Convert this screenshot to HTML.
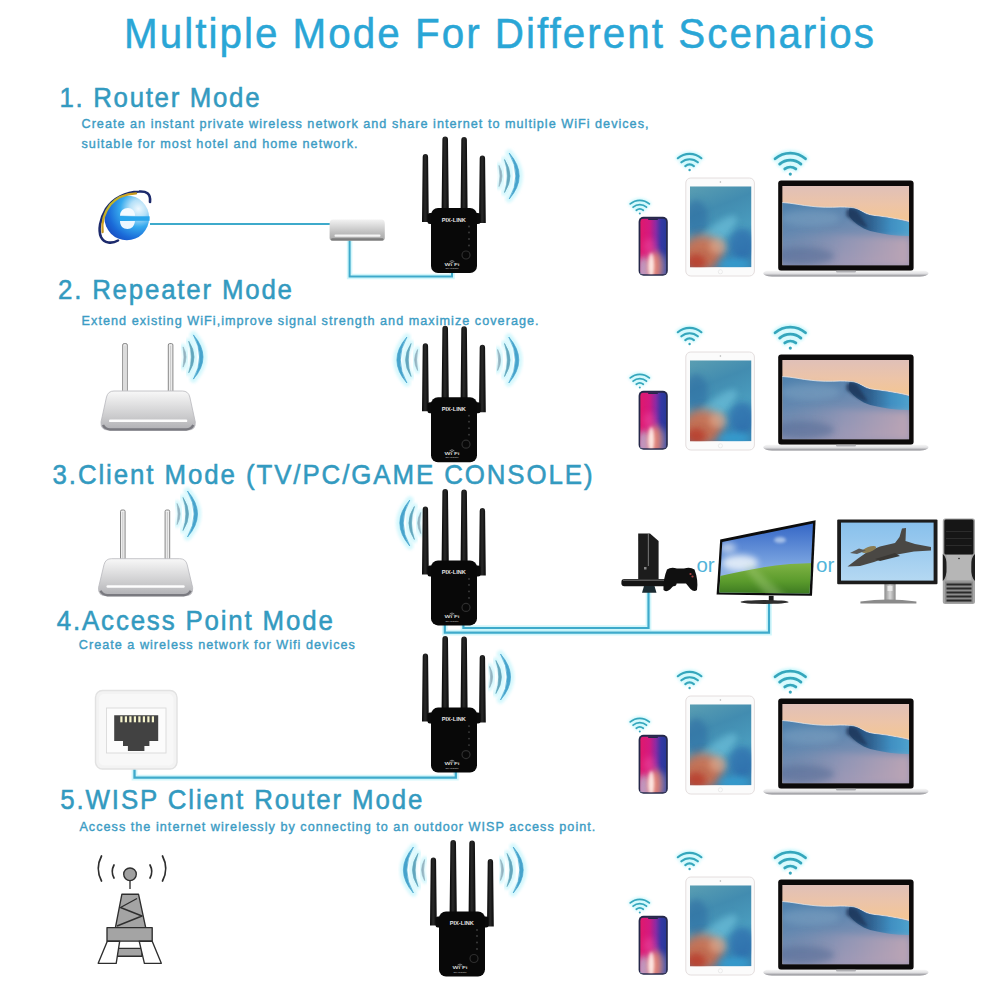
<!DOCTYPE html>
<html><head><meta charset="utf-8">
<style>
html,body{margin:0;padding:0;background:#fff;}
body{width:1000px;height:1000px;overflow:hidden;position:relative;font-family:"Liberation Sans",sans-serif;}
svg{position:absolute;left:0;top:0;}
text{-webkit-font-smoothing:antialiased;font-variant-ligatures:none;font-feature-settings:'liga' 0;}
</style></head><body>
<svg width="1000" height="1000" viewBox="0 0 1000 1000">
<defs>
<filter id="blur1" x="-50%" y="-50%" width="200%" height="200%"><feGaussianBlur stdDeviation="1.6"/></filter>
<filter id="blur05" x="-20%" y="-20%" width="140%" height="140%"><feGaussianBlur stdDeviation="0.5"/></filter>
<filter id="blur2" x="-50%" y="-50%" width="200%" height="200%"><feGaussianBlur stdDeviation="3"/></filter>
<filter id="blur4" x="-50%" y="-50%" width="200%" height="200%"><feGaussianBlur stdDeviation="5"/></filter>
<linearGradient id="phoneG" x1="0" y1="0" x2="1" y2="0">
 <stop offset="0" stop-color="#e0186c"/><stop offset="0.35" stop-color="#d41a80"/><stop offset="0.6" stop-color="#8a2aa4"/><stop offset="0.8" stop-color="#3438a4"/><stop offset="1" stop-color="#283898"/>
</linearGradient>
<linearGradient id="phoneV" x1="0" y1="0" x2="0" y2="1">
 <stop offset="0" stop-color="#fff" stop-opacity="0"/><stop offset="0.5" stop-color="#fff" stop-opacity="0"/><stop offset="1" stop-color="#c8c8e0" stop-opacity="0.8"/>
</linearGradient>
<radialGradient id="phoneGlow" cx="0.45" cy="1.0" r="0.6" gradientTransform="translate(0.45 1) scale(0.55 1) translate(-0.45 -1)">
 <stop offset="0" stop-color="#fff0e8" stop-opacity="1"/><stop offset="0.3" stop-color="#f4a888" stop-opacity="0.95"/><stop offset="0.65" stop-color="#e87870" stop-opacity="0.5"/><stop offset="1" stop-color="#e87870" stop-opacity="0"/>
</radialGradient>
<linearGradient id="tabG" x1="0" y1="0" x2="0.3" y2="1">
 <stop offset="0" stop-color="#5a9eb2"/><stop offset="0.35" stop-color="#428cb0"/><stop offset="0.7" stop-color="#4a9cbe"/><stop offset="1" stop-color="#3a84b2"/>
</linearGradient>
<linearGradient id="lapSky" x1="0" y1="0" x2="0" y2="0.45">
 <stop offset="0" stop-color="#e0c0b8"/><stop offset="0.5" stop-color="#ecc4a8"/><stop offset="1" stop-color="#f4c692"/>
</linearGradient>
<linearGradient id="lapSea" x1="0" y1="0" x2="0.5" y2="1">
 <stop offset="0" stop-color="#4e82ae"/><stop offset="0.4" stop-color="#6488b0"/><stop offset="1" stop-color="#9a96b4"/>
</linearGradient>
<linearGradient id="lapLow" x1="0" y1="0" x2="1" y2="0">
 <stop offset="0" stop-color="#7088aa" stop-opacity="0.0"/><stop offset="0.5" stop-color="#a49cb8" stop-opacity="0.5"/><stop offset="1" stop-color="#c4a8b4" stop-opacity="0.8"/>
</linearGradient>
<linearGradient id="crestG" x1="0" y1="0" x2="1" y2="0">
 <stop offset="0" stop-color="#244a74"/><stop offset="0.35" stop-color="#2a5c8c"/><stop offset="0.7" stop-color="#3a90c4"/><stop offset="1" stop-color="#48a4d0"/>
</linearGradient>
<linearGradient id="baseG" x1="0" y1="0" x2="0" y2="1">
 <stop offset="0" stop-color="#f6f6f6"/><stop offset="0.45" stop-color="#e2e2e4"/><stop offset="0.75" stop-color="#b4b4b8"/><stop offset="1" stop-color="#7e7e84"/>
</linearGradient>
<linearGradient id="routerG" x1="0" y1="0" x2="0" y2="1">
 <stop offset="0" stop-color="#f8f8f8"/><stop offset="0.7" stop-color="#c8c8ca"/><stop offset="1" stop-color="#b0b0b4"/>
</linearGradient>
<linearGradient id="switchG" x1="0" y1="0" x2="0" y2="1">
 <stop offset="0" stop-color="#f2f2f2"/><stop offset="0.65" stop-color="#bcbcbc"/><stop offset="1" stop-color="#a8a8a8"/>
</linearGradient>
<linearGradient id="tvSky" x1="0" y1="0" x2="0" y2="1">
 <stop offset="0" stop-color="#2f62c4"/><stop offset="0.55" stop-color="#7aa4e0"/><stop offset="1" stop-color="#c4d8ee"/>
</linearGradient>
<linearGradient id="tvGrass" x1="0" y1="0" x2="0" y2="1">
 <stop offset="0" stop-color="#80b444"/><stop offset="0.5" stop-color="#5a9a2c"/><stop offset="1" stop-color="#2e6a1c"/>
</linearGradient>
<linearGradient id="monSky" x1="0" y1="0" x2="0" y2="1">
 <stop offset="0" stop-color="#88c0ec"/><stop offset="1" stop-color="#b4d8f2"/>
</linearGradient>
<linearGradient id="silverG" x1="0" y1="0" x2="1" y2="0">
 <stop offset="0" stop-color="#8a8a8a"/><stop offset="0.5" stop-color="#d8d8d8"/><stop offset="1" stop-color="#8a8a8a"/>
</linearGradient>
<radialGradient id="ieG" cx="0.76" cy="0.3" r="0.9">
 <stop offset="0" stop-color="#eef8fe"/><stop offset="0.22" stop-color="#b4e0f8"/><stop offset="0.45" stop-color="#36aaee"/><stop offset="0.75" stop-color="#1a6ad8"/><stop offset="1" stop-color="#1a44b8"/>
</radialGradient>
<linearGradient id="ieRing" x1="0" y1="0" x2="1" y2="1">
 <stop offset="0" stop-color="#a0e040"/><stop offset="0.4" stop-color="#d0a020"/><stop offset="1" stop-color="#806010"/>
</linearGradient>
<linearGradient id="antG" x1="0" y1="0" x2="1" y2="0">
 <stop offset="0" stop-color="#050505"/><stop offset="0.45" stop-color="#2a2a2a"/><stop offset="1" stop-color="#080808"/>
</linearGradient>

<g id="rep">
<path d="M-8.30,-51.00 Q-8.30,-54.00 -5.60,-54.00 Q-2.90,-54.00 -2.90,-51.00 L-2.20,14.00 L-9.00,14.00 Z" fill="url(#antG)"/>
<path d="M11.40,-68.50 Q11.40,-71.50 14.20,-71.50 Q17.00,-71.50 17.00,-68.50 L17.80,3.00 L10.60,3.00 Z" fill="url(#antG)"/>
<path d="M30.30,-68.00 Q30.30,-71.00 33.10,-71.00 Q35.90,-71.00 35.90,-68.00 L36.60,3.00 L29.60,3.00 Z" fill="url(#antG)"/>
<path d="M48.70,-49.50 Q48.70,-52.50 51.40,-52.50 Q54.10,-52.50 54.10,-49.50 L54.80,15.00 L48.00,15.00 Z" fill="url(#antG)"/>
<rect x="-3.5" y="5" width="7" height="11" rx="2.5" fill="#0a0a0a"/>
<rect x="42.5" y="5" width="7" height="11" rx="2.5" fill="#0a0a0a"/>
<rect x="0" y="0" width="46" height="65" rx="7" fill="#080808"/>
<text x="22.8" y="13.8" font-family="Liberation Sans" font-weight="bold" font-size="5" fill="#e4e4e4" text-anchor="middle" textLength="24" lengthAdjust="spacingAndGlyphs">PIX-LINK</text>
<circle cx="38" cy="18.5" r="0.9" fill="#404040"/>
<circle cx="38" cy="24.5" r="0.9" fill="#404040"/>
<circle cx="38" cy="31" r="0.9" fill="#404040"/>
<circle cx="38" cy="37.5" r="0.9" fill="#404040"/>
<circle cx="35" cy="47" r="4" fill="none" stroke="#2e2e2e" stroke-width="1.2"/>
<text x="21" y="57.5" font-family="Liberation Sans" font-weight="bold" font-size="4.2" fill="#d0d0d0" text-anchor="middle" textLength="15" lengthAdjust="spacingAndGlyphs">Wi Fi</text>
<path d="M18.6,53.6 Q21,51.6 23.4,53.6 M19.6,54.8 Q21,53.6 22.4,54.8" fill="none" stroke="#d0d0d0" stroke-width="0.6"/>
<text x="21" y="61.3" font-family="Liberation Sans" font-weight="bold" font-size="2.4" fill="#a8a8a8" text-anchor="middle" textLength="13" lengthAdjust="spacingAndGlyphs">WiFi Repeater</text>
</g></defs>
<text transform="translate(124 48) scale(0.95 1)" x="0" y="0" font-family="Liberation Sans" font-size="42.5" font-weight="normal" fill="#2aa6d6" text-anchor="start" textLength="789.5" lengthAdjust="spacing" stroke="#2aa6d6" stroke-width="0.5">Multiple Mode For Different Scenarios</text>
<text transform="translate(59.5 106.5) scale(0.94 1)" x="0" y="0" font-family="Liberation Sans" font-size="27.5" font-weight="normal" fill="#339ac0" text-anchor="start" textLength="212.8" lengthAdjust="spacing" stroke="#339ac0" stroke-width="0.55">1. Router Mode</text>
<text transform="translate(81.5 127.5) scale(0.93 1)" x="0" y="0" font-family="Liberation Sans" font-size="13.6" font-weight="normal" fill="#3c9cc4" text-anchor="start" textLength="609.7" lengthAdjust="spacing" stroke="#3c9cc4" stroke-width="0.4">Create an instant private wireless network and share internet to multiple WiFi devices,</text>
<text transform="translate(81.5 147.5) scale(0.93 1)" x="0" y="0" font-family="Liberation Sans" font-size="13.6" font-weight="normal" fill="#3c9cc4" text-anchor="start" textLength="296.8" lengthAdjust="spacing" stroke="#3c9cc4" stroke-width="0.4">suitable for most hotel and home network.</text>
<text transform="translate(58 298.6) scale(0.94 1)" x="0" y="0" font-family="Liberation Sans" font-size="27.5" font-weight="normal" fill="#339ac0" text-anchor="start" textLength="248.9" lengthAdjust="spacing" stroke="#339ac0" stroke-width="0.55">2. Repeater Mode</text>
<text transform="translate(81.6 324.6) scale(0.93 1)" x="0" y="0" font-family="Liberation Sans" font-size="13.6" font-weight="normal" fill="#3c9cc4" text-anchor="start" textLength="491.4" lengthAdjust="spacing" stroke="#3c9cc4" stroke-width="0.4">Extend existing WiFi,improve signal strength and maximize coverage.</text>
<text transform="translate(52.5 484) scale(0.94 1)" x="0" y="0" font-family="Liberation Sans" font-size="27.5" font-weight="normal" fill="#339ac0" text-anchor="start" textLength="574.5" lengthAdjust="spacing" stroke="#339ac0" stroke-width="0.55">3.Client Mode (TV/PC/GAME CONSOLE)</text>
<text transform="translate(56.8 630) scale(0.94 1)" x="0" y="0" font-family="Liberation Sans" font-size="27.5" font-weight="normal" fill="#339ac0" text-anchor="start" textLength="293.6" lengthAdjust="spacing" stroke="#339ac0" stroke-width="0.55">4.Access Point Mode</text>
<text transform="translate(78.8 648.8) scale(0.93 1)" x="0" y="0" font-family="Liberation Sans" font-size="13.6" font-weight="normal" fill="#3c9cc4" text-anchor="start" textLength="296.8" lengthAdjust="spacing" stroke="#3c9cc4" stroke-width="0.4">Create a wireless network for Wifi devices</text>
<text transform="translate(60.3 809) scale(0.94 1)" x="0" y="0" font-family="Liberation Sans" font-size="27.5" font-weight="normal" fill="#339ac0" text-anchor="start" textLength="385.1" lengthAdjust="spacing" stroke="#339ac0" stroke-width="0.55">5.WISP Client Router Mode</text>
<text transform="translate(79.4 830.5) scale(0.93 1)" x="0" y="0" font-family="Liberation Sans" font-size="13.6" font-weight="normal" fill="#3c9cc4" text-anchor="start" textLength="554.8" lengthAdjust="spacing" stroke="#3c9cc4" stroke-width="0.4">Access the internet wirelessly by connecting to an outdoor WISP access point.</text>
<polyline points="150,224 331,224" fill="none" stroke="#aef0f8" stroke-width="5.5" opacity="0.55" filter="url(#blur05)"/>
<polyline points="349.6,240 349.6,276.6 452,276.6 452,270" fill="none" stroke="#aef0f8" stroke-width="5.5" opacity="0.55" filter="url(#blur05)"/>
<polyline points="444.8,625 444.8,632.6 769,632.6 769,602" fill="none" stroke="#aef0f8" stroke-width="5.7" opacity="0.55" filter="url(#blur05)"/>
<polyline points="463.4,625 463.4,628 648.5,628 648.5,592" fill="none" stroke="#aef0f8" stroke-width="5.7" opacity="0.55" filter="url(#blur05)"/>
<polyline points="134.5,765 134.5,777.6 455.8,777.6 455.8,772" fill="none" stroke="#aef0f8" stroke-width="5.8" opacity="0.55" filter="url(#blur05)"/>
<polyline points="150,224 331,224" fill="none" stroke="#3eaacb" stroke-width="2.0"/>
<polyline points="349.6,240 349.6,276.6 452,276.6 452,270" fill="none" stroke="#3eaacb" stroke-width="2.0"/>
<polyline points="444.8,625 444.8,632.6 769,632.6 769,602" fill="none" stroke="#3eaacb" stroke-width="2.2"/>
<polyline points="463.4,625 463.4,628 648.5,628 648.5,592" fill="none" stroke="#3eaacb" stroke-width="2.2"/>
<polyline points="134.5,765 134.5,777.6 455.8,777.6 455.8,772" fill="none" stroke="#3eaacb" stroke-width="2.3"/>
<g>
 <circle cx="126.8" cy="217.8" r="22.4" fill="url(#ieG)"/>
 <path d="M120,215.8 C120,211 123.5,208 128,208 C132,208 135,211 135,215.8 Z" fill="#f4faff"/>
 <rect x="120" y="216.3" width="29.6" height="4.5" fill="#2aa6ec"/>
 <path d="M120,221 L135,221 C134.5,226 131.5,229 127.5,229 C123,229 120,226 120,221 Z" fill="#eef7ff"/>
 <path d="M118,240.5 C112,244 104,243.5 101,237 C98,230 100,219 106,209 C113,198 126,192 139,191.5 C146,191 151,193 150,202" fill="none" stroke="#1c2a6c" stroke-width="2.6" stroke-linecap="round"/>
 <path d="M102.6,232 C101.5,222 104.5,212 110.5,204.5 C116.5,197.5 126,193.8 136,193.3" fill="none" stroke="url(#ieRing)" stroke-width="2.3" stroke-linecap="round"/>
</g>
<path d="M333,219.6 L381.5,219.6 Q384.8,219.6 384.8,224 L384.8,238 Q384.8,240.8 381,240.8 L333,240.8 Q329.6,240.8 329.6,238 L329.6,224 Q329.6,219.6 333,219.6 Z" fill="url(#switchG)"/>
<rect x="334.5" y="234.6" width="46" height="2.2" rx="1" fill="#f4f4f4"/>
<rect x="331" y="238.2" width="52.5" height="2.4" rx="1.2" fill="#7c7c7c"/>
<rect x="122.7" y="343.6" width="4.6" height="48.4" rx="1.4" fill="#eeeeee" stroke="#7a7a7a" stroke-width="0.9"/>
<line x1="125.0" y1="345.6" x2="125.0" y2="391.0" stroke="#c0c0c0" stroke-width="0.8"/>
<rect x="168.3" y="343.6" width="4.6" height="48.4" rx="1.4" fill="#eeeeee" stroke="#7a7a7a" stroke-width="0.9"/>
<line x1="170.6" y1="345.6" x2="170.6" y2="391.0" stroke="#c0c0c0" stroke-width="0.8"/>
<path d="M114.0,391.0 L182.3,391.0 Q188.3,391.0 189.8,397.0 L195.3,422.0 Q195.8,430.0 188.3,430.0 L108.0,430.0 Q100.5,430.0 101.0,422.0 L106.5,397.0 Q108.0,391.0 114.0,391.0 Z" fill="url(#routerG)" stroke="#b8b8bc" stroke-width="0.8"/>
<rect x="109.0" y="419.5" width="78.3" height="2.6" rx="1.2" fill="#fdfdfd"/>
<path d="M103.0,425.0 Q105.0,429.0 110.0,429.5 L186.3,429.5 Q191.3,429.0 193.3,425.0" fill="none" stroke="#7a7a80" stroke-width="2.4"/>
<rect x="120.5" y="510.0" width="4.6" height="49.7" rx="1.4" fill="#eeeeee" stroke="#7a7a7a" stroke-width="0.9"/>
<line x1="122.8" y1="512.0" x2="122.8" y2="558.7" stroke="#c0c0c0" stroke-width="0.8"/>
<rect x="165.1" y="510.0" width="4.6" height="49.7" rx="1.4" fill="#eeeeee" stroke="#7a7a7a" stroke-width="0.9"/>
<line x1="167.4" y1="512.0" x2="167.4" y2="558.7" stroke="#c0c0c0" stroke-width="0.8"/>
<path d="M111.5,558.7 L179.7,558.7 Q185.7,558.7 187.2,564.7 L192.7,587.7 Q193.2,595.7 185.7,595.7 L105.5,595.7 Q98.0,595.7 98.5,587.7 L104.0,564.7 Q105.5,558.7 111.5,558.7 Z" fill="url(#routerG)" stroke="#b8b8bc" stroke-width="0.8"/>
<rect x="106.5" y="585.2" width="78.2" height="2.6" rx="1.2" fill="#fdfdfd"/>
<path d="M100.5,590.7 Q102.5,594.7 107.5,595.2 L183.7,595.2 Q188.7,594.7 190.7,590.7" fill="none" stroke="#7a7a80" stroke-width="2.4"/>
<g>
 <rect x="95.5" y="690.5" width="81.5" height="78.5" rx="7" fill="#f3f3f3" stroke="#e2e2e2" stroke-width="1.4"/>
 <rect x="99" y="694" width="74.5" height="71.5" rx="5" fill="#f8f8f8"/>
 <rect x="106.5" y="708" width="59.5" height="45" fill="#fcfcfc" stroke="#dadada" stroke-width="0.9"/>
 <path d="M114.2,715.2 L158.2,715.2 L158.2,741 L149.4,741 L149.4,746 L144.4,746 L144.4,751 L127.9,751 L127.9,746 L123,746 L123,741 L114.2,741 Z" fill="#424242"/>
</g>
<rect x="120.3" y="716.3" width="2.2" height="6" fill="#f6f4cc"/>
<rect x="124.8" y="716.3" width="2.2" height="6" fill="#f6f4cc"/>
<rect x="129.3" y="716.3" width="2.2" height="6" fill="#f6f4cc"/>
<rect x="133.8" y="716.3" width="2.2" height="6" fill="#f6f4cc"/>
<rect x="138.3" y="716.3" width="2.2" height="6" fill="#f6f4cc"/>
<rect x="142.8" y="716.3" width="2.2" height="6" fill="#f6f4cc"/>
<rect x="147.3" y="716.3" width="2.2" height="6" fill="#f6f4cc"/>
<rect x="151.8" y="716.3" width="2.2" height="6" fill="#f6f4cc"/>
<g stroke="#2e2e2e" stroke-width="1.35" stroke-linejoin="round">
 <circle cx="130" cy="874.3" r="6.3" fill="#a0a0a0"/>
 <line x1="130" y1="880.6" x2="130" y2="889" />
 <path d="M121.9,894.2 L138.5,894.2 L145.7,927.6 L115.4,927.6 Z" fill="#a4a4a4"/>
 <path d="M137,898.5 L120.5,907.5 L142,916 L117,926" fill="none" />
 <rect x="107" y="927.6" width="45.2" height="13.6" fill="#a4a4a4"/>
 <rect x="117" y="948.4" width="25" height="7.8" fill="#a4a4a4"/>
 <path d="M107.3,941.2 L119.7,941.2 L116.2,963.3 L98.2,963.3 Z" fill="#fff"/>
 <path d="M139.2,941.2 L152.2,941.2 L161.3,963.3 L144.4,963.3 Z" fill="#fff"/>
 <g fill="none" stroke-linecap="round" stroke-width="1.7">
  <path d="M101.5,856 Q95,868.5 101.5,881"/>
  <path d="M114,865 Q110.5,871.5 114,878"/>
  <path d="M150,865 Q153.5,871.5 150,878"/>
  <path d="M162.5,856 Q169,868.5 162.5,881"/>
 </g>
</g>
<path d="M499.0,165.5 Q505.0,176.0 499.0,186.5" fill="none" stroke="#a8f0fa" stroke-width="6.1" stroke-linecap="round" opacity="0.5" filter="url(#blur1)"/>
<path d="M499.0,165.5 Q505.0,176.0 499.0,186.5 Q501.0,176.0 499.0,165.5 Z" fill="#8eaebc" stroke="#8eaebc" stroke-width="0.7" stroke-linejoin="round" opacity="0.92" filter="url(#blur05)"/>
<path d="M504.5,159.5 Q515.5,176.0 504.5,192.5" fill="none" stroke="#a8f0fa" stroke-width="6.6" stroke-linecap="round" opacity="0.5" filter="url(#blur1)"/>
<path d="M504.5,159.5 Q515.5,176.0 504.5,192.5 Q510.2,176.0 504.5,159.5 Z" fill="#5aa0b8" stroke="#5aa0b8" stroke-width="0.7" stroke-linejoin="round" opacity="0.92" filter="url(#blur05)"/>
<path d="M509.2,153.0 Q529.2,176.0 509.2,199.0" fill="none" stroke="#a8f0fa" stroke-width="7.2" stroke-linecap="round" opacity="0.5" filter="url(#blur1)"/>
<path d="M509.2,153.0 Q529.2,176.0 509.2,199.0 Q522.5,176.0 509.2,153.0 Z" fill="#3a9cc8" stroke="#3a9cc8" stroke-width="0.7" stroke-linejoin="round" opacity="0.92" filter="url(#blur05)"/>
<path d="M417.6,349.5 Q411.6,360.0 417.6,370.5" fill="none" stroke="#a8f0fa" stroke-width="6.1" stroke-linecap="round" opacity="0.5" filter="url(#blur1)"/>
<path d="M417.6,349.5 Q411.6,360.0 417.6,370.5 Q415.6,360.0 417.6,349.5 Z" fill="#8eaebc" stroke="#8eaebc" stroke-width="0.7" stroke-linejoin="round" opacity="0.92" filter="url(#blur05)"/>
<path d="M411.1,343.5 Q400.1,360.0 411.1,376.5" fill="none" stroke="#a8f0fa" stroke-width="6.6" stroke-linecap="round" opacity="0.5" filter="url(#blur1)"/>
<path d="M411.1,343.5 Q400.1,360.0 411.1,376.5 Q405.4,360.0 411.1,343.5 Z" fill="#5aa0b8" stroke="#5aa0b8" stroke-width="0.7" stroke-linejoin="round" opacity="0.92" filter="url(#blur05)"/>
<path d="M406.9,337.0 Q386.9,360.0 406.9,383.0" fill="none" stroke="#a8f0fa" stroke-width="7.2" stroke-linecap="round" opacity="0.5" filter="url(#blur1)"/>
<path d="M406.9,337.0 Q386.9,360.0 406.9,383.0 Q393.6,360.0 406.9,337.0 Z" fill="#3a9cc8" stroke="#3a9cc8" stroke-width="0.7" stroke-linejoin="round" opacity="0.92" filter="url(#blur05)"/>
<path d="M497.6,349.5 Q503.6,360.0 497.6,370.5" fill="none" stroke="#a8f0fa" stroke-width="6.1" stroke-linecap="round" opacity="0.5" filter="url(#blur1)"/>
<path d="M497.6,349.5 Q503.6,360.0 497.6,370.5 Q499.6,360.0 497.6,349.5 Z" fill="#8eaebc" stroke="#8eaebc" stroke-width="0.7" stroke-linejoin="round" opacity="0.92" filter="url(#blur05)"/>
<path d="M504.5,343.5 Q515.5,360.0 504.5,376.5" fill="none" stroke="#a8f0fa" stroke-width="6.6" stroke-linecap="round" opacity="0.5" filter="url(#blur1)"/>
<path d="M504.5,343.5 Q515.5,360.0 504.5,376.5 Q510.2,360.0 504.5,343.5 Z" fill="#5aa0b8" stroke="#5aa0b8" stroke-width="0.7" stroke-linejoin="round" opacity="0.92" filter="url(#blur05)"/>
<path d="M508.8,337.0 Q528.8,360.0 508.8,383.0" fill="none" stroke="#a8f0fa" stroke-width="7.2" stroke-linecap="round" opacity="0.5" filter="url(#blur1)"/>
<path d="M508.8,337.0 Q528.8,360.0 508.8,383.0 Q522.0,360.0 508.8,337.0 Z" fill="#3a9cc8" stroke="#3a9cc8" stroke-width="0.7" stroke-linejoin="round" opacity="0.92" filter="url(#blur05)"/>
<path d="M183.1,346.9 Q188.9,357.0 183.1,367.1" fill="none" stroke="#a8f0fa" stroke-width="6.1" stroke-linecap="round" opacity="0.5" filter="url(#blur1)"/>
<path d="M183.1,346.9 Q188.9,357.0 183.1,367.1 Q184.9,357.0 183.1,346.9 Z" fill="#8eaebc" stroke="#8eaebc" stroke-width="0.7" stroke-linejoin="round" opacity="0.92" filter="url(#blur05)"/>
<path d="M188.7,341.2 Q199.3,357.0 188.7,372.8" fill="none" stroke="#a8f0fa" stroke-width="6.6" stroke-linecap="round" opacity="0.5" filter="url(#blur1)"/>
<path d="M188.7,341.2 Q199.3,357.0 188.7,372.8 Q194.0,357.0 188.7,341.2 Z" fill="#5aa0b8" stroke="#5aa0b8" stroke-width="0.7" stroke-linejoin="round" opacity="0.92" filter="url(#blur05)"/>
<path d="M193.4,334.9 Q212.6,357.0 193.4,379.1" fill="none" stroke="#a8f0fa" stroke-width="7.2" stroke-linecap="round" opacity="0.5" filter="url(#blur1)"/>
<path d="M193.4,334.9 Q212.6,357.0 193.4,379.1 Q205.8,357.0 193.4,334.9 Z" fill="#3a9cc8" stroke="#3a9cc8" stroke-width="0.7" stroke-linejoin="round" opacity="0.92" filter="url(#blur05)"/>
<path d="M420.7,512.5 Q414.7,523.0 420.7,533.5" fill="none" stroke="#a8f0fa" stroke-width="6.1" stroke-linecap="round" opacity="0.5" filter="url(#blur1)"/>
<path d="M420.7,512.5 Q414.7,523.0 420.7,533.5 Q418.7,523.0 420.7,512.5 Z" fill="#8eaebc" stroke="#8eaebc" stroke-width="0.7" stroke-linejoin="round" opacity="0.92" filter="url(#blur05)"/>
<path d="M414.4,506.5 Q403.4,523.0 414.4,539.5" fill="none" stroke="#a8f0fa" stroke-width="6.6" stroke-linecap="round" opacity="0.5" filter="url(#blur1)"/>
<path d="M414.4,506.5 Q403.4,523.0 414.4,539.5 Q408.6,523.0 414.4,506.5 Z" fill="#5aa0b8" stroke="#5aa0b8" stroke-width="0.7" stroke-linejoin="round" opacity="0.92" filter="url(#blur05)"/>
<path d="M409.8,500.0 Q389.8,523.0 409.8,546.0" fill="none" stroke="#a8f0fa" stroke-width="7.2" stroke-linecap="round" opacity="0.5" filter="url(#blur1)"/>
<path d="M409.8,500.0 Q389.8,523.0 409.8,546.0 Q396.6,523.0 409.8,500.0 Z" fill="#3a9cc8" stroke="#3a9cc8" stroke-width="0.7" stroke-linejoin="round" opacity="0.92" filter="url(#blur05)"/>
<path d="M177.1,503.5 Q183.1,514.0 177.1,524.5" fill="none" stroke="#a8f0fa" stroke-width="6.1" stroke-linecap="round" opacity="0.5" filter="url(#blur1)"/>
<path d="M177.1,503.5 Q183.1,514.0 177.1,524.5 Q179.1,514.0 177.1,503.5 Z" fill="#8eaebc" stroke="#8eaebc" stroke-width="0.7" stroke-linejoin="round" opacity="0.92" filter="url(#blur05)"/>
<path d="M183.0,497.5 Q194.0,514.0 183.0,530.5" fill="none" stroke="#a8f0fa" stroke-width="6.6" stroke-linecap="round" opacity="0.5" filter="url(#blur1)"/>
<path d="M183.0,497.5 Q194.0,514.0 183.0,530.5 Q188.8,514.0 183.0,497.5 Z" fill="#5aa0b8" stroke="#5aa0b8" stroke-width="0.7" stroke-linejoin="round" opacity="0.92" filter="url(#blur05)"/>
<path d="M187.5,491.0 Q207.5,514.0 187.5,537.0" fill="none" stroke="#a8f0fa" stroke-width="7.2" stroke-linecap="round" opacity="0.5" filter="url(#blur1)"/>
<path d="M187.5,491.0 Q207.5,514.0 187.5,537.0 Q200.8,514.0 187.5,491.0 Z" fill="#3a9cc8" stroke="#3a9cc8" stroke-width="0.7" stroke-linejoin="round" opacity="0.92" filter="url(#blur05)"/>
<path d="M489.6,666.5 Q495.6,677.0 489.6,687.5" fill="none" stroke="#a8f0fa" stroke-width="6.1" stroke-linecap="round" opacity="0.5" filter="url(#blur1)"/>
<path d="M489.6,666.5 Q495.6,677.0 489.6,687.5 Q491.6,677.0 489.6,666.5 Z" fill="#8eaebc" stroke="#8eaebc" stroke-width="0.7" stroke-linejoin="round" opacity="0.92" filter="url(#blur05)"/>
<path d="M495.9,660.5 Q506.9,677.0 495.9,693.5" fill="none" stroke="#a8f0fa" stroke-width="6.6" stroke-linecap="round" opacity="0.5" filter="url(#blur1)"/>
<path d="M495.9,660.5 Q506.9,677.0 495.9,693.5 Q501.6,677.0 495.9,660.5 Z" fill="#5aa0b8" stroke="#5aa0b8" stroke-width="0.7" stroke-linejoin="round" opacity="0.92" filter="url(#blur05)"/>
<path d="M500.5,654.0 Q520.5,677.0 500.5,700.0" fill="none" stroke="#a8f0fa" stroke-width="7.2" stroke-linecap="round" opacity="0.5" filter="url(#blur1)"/>
<path d="M500.5,654.0 Q520.5,677.0 500.5,700.0 Q513.8,677.0 500.5,654.0 Z" fill="#3a9cc8" stroke="#3a9cc8" stroke-width="0.7" stroke-linejoin="round" opacity="0.92" filter="url(#blur05)"/>
<path d="M424.6,859.5 Q418.6,870.0 424.6,880.5" fill="none" stroke="#a8f0fa" stroke-width="6.1" stroke-linecap="round" opacity="0.5" filter="url(#blur1)"/>
<path d="M424.6,859.5 Q418.6,870.0 424.6,880.5 Q422.6,870.0 424.6,859.5 Z" fill="#8eaebc" stroke="#8eaebc" stroke-width="0.7" stroke-linejoin="round" opacity="0.92" filter="url(#blur05)"/>
<path d="M418.0,853.5 Q407.0,870.0 418.0,886.5" fill="none" stroke="#a8f0fa" stroke-width="6.6" stroke-linecap="round" opacity="0.5" filter="url(#blur1)"/>
<path d="M418.0,853.5 Q407.0,870.0 418.0,886.5 Q412.2,870.0 418.0,853.5 Z" fill="#5aa0b8" stroke="#5aa0b8" stroke-width="0.7" stroke-linejoin="round" opacity="0.92" filter="url(#blur05)"/>
<path d="M413.4,847.0 Q393.4,870.0 413.4,893.0" fill="none" stroke="#a8f0fa" stroke-width="7.2" stroke-linecap="round" opacity="0.5" filter="url(#blur1)"/>
<path d="M413.4,847.0 Q393.4,870.0 413.4,893.0 Q400.1,870.0 413.4,847.0 Z" fill="#3a9cc8" stroke="#3a9cc8" stroke-width="0.7" stroke-linejoin="round" opacity="0.92" filter="url(#blur05)"/>
<path d="M500.5,859.5 Q506.5,870.0 500.5,880.5" fill="none" stroke="#a8f0fa" stroke-width="6.1" stroke-linecap="round" opacity="0.5" filter="url(#blur1)"/>
<path d="M500.5,859.5 Q506.5,870.0 500.5,880.5 Q502.5,870.0 500.5,859.5 Z" fill="#8eaebc" stroke="#8eaebc" stroke-width="0.7" stroke-linejoin="round" opacity="0.92" filter="url(#blur05)"/>
<path d="M507.1,853.5 Q518.1,870.0 507.1,886.5" fill="none" stroke="#a8f0fa" stroke-width="6.6" stroke-linecap="round" opacity="0.5" filter="url(#blur1)"/>
<path d="M507.1,853.5 Q518.1,870.0 507.1,886.5 Q512.9,870.0 507.1,853.5 Z" fill="#5aa0b8" stroke="#5aa0b8" stroke-width="0.7" stroke-linejoin="round" opacity="0.92" filter="url(#blur05)"/>
<path d="M513.2,847.0 Q533.2,870.0 513.2,893.0" fill="none" stroke="#a8f0fa" stroke-width="7.2" stroke-linecap="round" opacity="0.5" filter="url(#blur1)"/>
<path d="M513.2,847.0 Q533.2,870.0 513.2,893.0 Q526.5,870.0 513.2,847.0 Z" fill="#3a9cc8" stroke="#3a9cc8" stroke-width="0.7" stroke-linejoin="round" opacity="0.92" filter="url(#blur05)"/>
<use href="#rep" x="431" y="208"/>
<use href="#rep" x="431" y="397.2"/>
<use href="#rep" x="431" y="560.4"/>
<use href="#rep" x="431" y="707.6"/>
<use href="#rep" x="439" y="911.5"/>
<path d="M630.23,203.88 A14.59,14.59 0 0 1 649.37,203.88 M633.11,207.20 A10.19,10.19 0 0 1 646.49,207.20 M636.32,210.27 A5.79,5.79 0 0 1 643.28,210.27" fill="none" stroke="#9ef2fa" stroke-width="3.46" stroke-linecap="round" opacity="0.6" filter="url(#blur1)"/>
<path d="M630.23,203.88 A14.59,14.59 0 0 1 649.37,203.88 M633.11,207.20 A10.19,10.19 0 0 1 646.49,207.20 M636.32,210.27 A5.79,5.79 0 0 1 643.28,210.27" fill="none" stroke="#35a6bc" stroke-width="1.76" stroke-linecap="round"/>
<circle cx="639.80" cy="213.51" r="1.01" fill="#35a6bc"/>
<rect x="638.6" y="216.8" width="29.2" height="59" rx="5" fill="#25284a"/>
<svg x="640.2" y="218.4" width="26" height="55.8" overflow="hidden"><rect width="26" height="55.8" rx="3.8" fill="url(#phoneG)"/><ellipse cx="4" cy="52" rx="8" ry="14" fill="#b8b8d4" opacity="0.8" filter="url(#blur2)"/><ellipse cx="23" cy="50" rx="6" ry="14" fill="#6a78b8" opacity="0.6" filter="url(#blur2)"/><ellipse cx="15" cy="48" rx="7" ry="16" fill="#f09070" opacity="0.85" filter="url(#blur2)"/><ellipse cx="11" cy="47" rx="3" ry="13" fill="#fff2ec" opacity="0.9" filter="url(#blur1)"/><ellipse cx="9" cy="28" rx="6" ry="8" fill="#f050a0" opacity="0.5" filter="url(#blur2)"/></svg>
<rect x="648" y="218.4" width="10" height="1.6" rx="0.8" fill="#25284a"/>
<path d="M677.82,158.21 A17.96,17.96 0 0 1 701.38,158.21 M681.37,162.30 A12.54,12.54 0 0 1 697.83,162.30 M685.31,166.07 A7.12,7.12 0 0 1 693.89,166.07" fill="none" stroke="#9ef2fa" stroke-width="4.26" stroke-linecap="round" opacity="0.6" filter="url(#blur1)"/>
<path d="M677.82,158.21 A17.96,17.96 0 0 1 701.38,158.21 M681.37,162.30 A12.54,12.54 0 0 1 697.83,162.30 M685.31,166.07 A7.12,7.12 0 0 1 693.89,166.07" fill="none" stroke="#35a6bc" stroke-width="2.17" stroke-linecap="round"/>
<circle cx="689.60" cy="170.06" r="1.24" fill="#35a6bc"/>
<rect x="685.8" y="178.0" width="68.6" height="98" rx="5" fill="#fbfbfb" stroke="#e4dede" stroke-width="1"/>
<svg x="690" y="186.3" width="61.5" height="81" overflow="hidden"><rect width="61.5" height="81" fill="url(#tabG)"/><ellipse cx="6" cy="32" rx="12" ry="18" fill="#2c68a0" opacity="0.5" filter="url(#blur2)"/><ellipse cx="28" cy="46" rx="24" ry="8" transform="rotate(-40 28 46)" fill="#74c8e0" opacity="0.55" filter="url(#blur2)"/><ellipse cx="12" cy="67" rx="20" ry="18" fill="#d86a44" opacity="0.85" filter="url(#blur4)"/><ellipse cx="6" cy="76" rx="10" ry="8" fill="#b83a2a" opacity="0.8" filter="url(#blur2)"/><ellipse cx="28" cy="60" rx="9" ry="8" fill="#e8b090" opacity="0.6" filter="url(#blur2)"/><ellipse cx="52" cy="58" rx="12" ry="16" fill="#2a68ac" opacity="0.6" filter="url(#blur2)"/><ellipse cx="44" cy="78" rx="16" ry="6" fill="#36a4d8" opacity="0.7" filter="url(#blur2)"/></svg>
<circle cx="720.4" cy="182.0" r="0.8" fill="#b0b0b0"/>
<circle cx="720.4" cy="271.8" r="2.1" fill="none" stroke="#e0e0e0" stroke-width="0.6"/>
<path d="M775.08,158.79 A23.20,23.20 0 0 1 805.52,158.79 M779.67,164.07 A16.20,16.20 0 0 1 800.93,164.07 M784.76,168.95 A9.20,9.20 0 0 1 795.84,168.95" fill="none" stroke="#9ef2fa" stroke-width="5.50" stroke-linecap="round" opacity="0.6" filter="url(#blur1)"/>
<path d="M775.08,158.79 A23.20,23.20 0 0 1 805.52,158.79 M779.67,164.07 A16.20,16.20 0 0 1 800.93,164.07 M784.76,168.95 A9.20,9.20 0 0 1 795.84,168.95" fill="none" stroke="#35a6bc" stroke-width="2.80" stroke-linecap="round"/>
<circle cx="790.30" cy="174.10" r="1.60" fill="#35a6bc"/>
<rect x="778.2" y="180.6" width="135.4" height="90.2" rx="3" fill="#0c0a0a"/>
<svg x="782.2" y="186.0" width="127" height="79.3" overflow="hidden"><rect width="127" height="79.3" fill="url(#lapSky)"/><path d="M0,16.5 C10,17 20,19.5 29,20.3 C38,21.5 48,21.5 58,21 C64,21 68,21.5 71,21.7 C76,22.5 82,27 88,28.8 C96,30.2 104,30.6 110,32 C116,33 122,34 127,35.5 L127,80 L0,80 Z" fill="url(#lapSea)"/><path d="M0,16.5 C10,17 20,19.5 29,20.3 C38,21.5 48,21.5 58,21 C64,21 68,21.5 71,21.7 C76,22.5 82,27 88,28.8 C96,30.2 104,30.6 110,32 C116,33 122,34 127,35.5" fill="none" stroke="#e8eef4" stroke-width="1" opacity="0.7"/><path d="M67,22.5 C73,21.5 78,24.5 84,28.3 C92,30.5 101,31 109,32.5 C117,34 122,35 127,36.5 L127,50 C114,50 100,48 88,45 C79,42 72,37 67,30 Z" fill="url(#crestG)" opacity="0.9" filter="url(#blur05)"/><path d="M64,24 C68,22 72,23 75,25 C79,30 82,36 86,42 C78,40 70,35 64,30 Z" fill="#1e3658" opacity="0.75" filter="url(#blur1)"/><path d="M0,50 C30,46 60,50 127,52 L127,80 L0,80 Z" fill="url(#lapLow)" filter="url(#blur2)"/><ellipse cx="28" cy="32" rx="30" ry="8" fill="#8cb0cc" opacity="0.35" filter="url(#blur2)"/><ellipse cx="20" cy="70" rx="32" ry="9" fill="#4a6490" opacity="0.45" filter="url(#blur2)"/></svg>
<path d="M768,270.8 L924,270.8 Q928.5,271.3 928.5,273.6 Q927,276.6 920,276.6 L772,276.6 Q764.5,276.6 763.2,273.6 Q763.5,271.3 768,270.8 Z" fill="url(#baseG)"/>
<rect x="836" y="270.8" width="20" height="1.6" rx="0.8" fill="#b0b0b4"/>
<path d="M630.23,377.88 A14.59,14.59 0 0 1 649.37,377.88 M633.11,381.20 A10.19,10.19 0 0 1 646.49,381.20 M636.32,384.27 A5.79,5.79 0 0 1 643.28,384.27" fill="none" stroke="#9ef2fa" stroke-width="3.46" stroke-linecap="round" opacity="0.6" filter="url(#blur1)"/>
<path d="M630.23,377.88 A14.59,14.59 0 0 1 649.37,377.88 M633.11,381.20 A10.19,10.19 0 0 1 646.49,381.20 M636.32,384.27 A5.79,5.79 0 0 1 643.28,384.27" fill="none" stroke="#35a6bc" stroke-width="1.76" stroke-linecap="round"/>
<circle cx="639.80" cy="387.51" r="1.01" fill="#35a6bc"/>
<rect x="638.6" y="390.8" width="29.2" height="59" rx="5" fill="#25284a"/>
<svg x="640.2" y="392.4" width="26" height="55.8" overflow="hidden"><rect width="26" height="55.8" rx="3.8" fill="url(#phoneG)"/><ellipse cx="4" cy="52" rx="8" ry="14" fill="#b8b8d4" opacity="0.8" filter="url(#blur2)"/><ellipse cx="23" cy="50" rx="6" ry="14" fill="#6a78b8" opacity="0.6" filter="url(#blur2)"/><ellipse cx="15" cy="48" rx="7" ry="16" fill="#f09070" opacity="0.85" filter="url(#blur2)"/><ellipse cx="11" cy="47" rx="3" ry="13" fill="#fff2ec" opacity="0.9" filter="url(#blur1)"/><ellipse cx="9" cy="28" rx="6" ry="8" fill="#f050a0" opacity="0.5" filter="url(#blur2)"/></svg>
<rect x="648" y="392.4" width="10" height="1.6" rx="0.8" fill="#25284a"/>
<path d="M677.82,332.21 A17.96,17.96 0 0 1 701.38,332.21 M681.37,336.30 A12.54,12.54 0 0 1 697.83,336.30 M685.31,340.07 A7.12,7.12 0 0 1 693.89,340.07" fill="none" stroke="#9ef2fa" stroke-width="4.26" stroke-linecap="round" opacity="0.6" filter="url(#blur1)"/>
<path d="M677.82,332.21 A17.96,17.96 0 0 1 701.38,332.21 M681.37,336.30 A12.54,12.54 0 0 1 697.83,336.30 M685.31,340.07 A7.12,7.12 0 0 1 693.89,340.07" fill="none" stroke="#35a6bc" stroke-width="2.17" stroke-linecap="round"/>
<circle cx="689.60" cy="344.06" r="1.24" fill="#35a6bc"/>
<rect x="685.8" y="352.0" width="68.6" height="98" rx="5" fill="#fbfbfb" stroke="#e4dede" stroke-width="1"/>
<svg x="690" y="360.3" width="61.5" height="81" overflow="hidden"><rect width="61.5" height="81" fill="url(#tabG)"/><ellipse cx="6" cy="32" rx="12" ry="18" fill="#2c68a0" opacity="0.5" filter="url(#blur2)"/><ellipse cx="28" cy="46" rx="24" ry="8" transform="rotate(-40 28 46)" fill="#74c8e0" opacity="0.55" filter="url(#blur2)"/><ellipse cx="12" cy="67" rx="20" ry="18" fill="#d86a44" opacity="0.85" filter="url(#blur4)"/><ellipse cx="6" cy="76" rx="10" ry="8" fill="#b83a2a" opacity="0.8" filter="url(#blur2)"/><ellipse cx="28" cy="60" rx="9" ry="8" fill="#e8b090" opacity="0.6" filter="url(#blur2)"/><ellipse cx="52" cy="58" rx="12" ry="16" fill="#2a68ac" opacity="0.6" filter="url(#blur2)"/><ellipse cx="44" cy="78" rx="16" ry="6" fill="#36a4d8" opacity="0.7" filter="url(#blur2)"/></svg>
<circle cx="720.4" cy="356.0" r="0.8" fill="#b0b0b0"/>
<circle cx="720.4" cy="445.8" r="2.1" fill="none" stroke="#e0e0e0" stroke-width="0.6"/>
<path d="M775.08,332.79 A23.20,23.20 0 0 1 805.52,332.79 M779.67,338.07 A16.20,16.20 0 0 1 800.93,338.07 M784.76,342.95 A9.20,9.20 0 0 1 795.84,342.95" fill="none" stroke="#9ef2fa" stroke-width="5.50" stroke-linecap="round" opacity="0.6" filter="url(#blur1)"/>
<path d="M775.08,332.79 A23.20,23.20 0 0 1 805.52,332.79 M779.67,338.07 A16.20,16.20 0 0 1 800.93,338.07 M784.76,342.95 A9.20,9.20 0 0 1 795.84,342.95" fill="none" stroke="#35a6bc" stroke-width="2.80" stroke-linecap="round"/>
<circle cx="790.30" cy="348.10" r="1.60" fill="#35a6bc"/>
<rect x="778.2" y="354.6" width="135.4" height="90.2" rx="3" fill="#0c0a0a"/>
<svg x="782.2" y="360.0" width="127" height="79.3" overflow="hidden"><rect width="127" height="79.3" fill="url(#lapSky)"/><path d="M0,16.5 C10,17 20,19.5 29,20.3 C38,21.5 48,21.5 58,21 C64,21 68,21.5 71,21.7 C76,22.5 82,27 88,28.8 C96,30.2 104,30.6 110,32 C116,33 122,34 127,35.5 L127,80 L0,80 Z" fill="url(#lapSea)"/><path d="M0,16.5 C10,17 20,19.5 29,20.3 C38,21.5 48,21.5 58,21 C64,21 68,21.5 71,21.7 C76,22.5 82,27 88,28.8 C96,30.2 104,30.6 110,32 C116,33 122,34 127,35.5" fill="none" stroke="#e8eef4" stroke-width="1" opacity="0.7"/><path d="M67,22.5 C73,21.5 78,24.5 84,28.3 C92,30.5 101,31 109,32.5 C117,34 122,35 127,36.5 L127,50 C114,50 100,48 88,45 C79,42 72,37 67,30 Z" fill="url(#crestG)" opacity="0.9" filter="url(#blur05)"/><path d="M64,24 C68,22 72,23 75,25 C79,30 82,36 86,42 C78,40 70,35 64,30 Z" fill="#1e3658" opacity="0.75" filter="url(#blur1)"/><path d="M0,50 C30,46 60,50 127,52 L127,80 L0,80 Z" fill="url(#lapLow)" filter="url(#blur2)"/><ellipse cx="28" cy="32" rx="30" ry="8" fill="#8cb0cc" opacity="0.35" filter="url(#blur2)"/><ellipse cx="20" cy="70" rx="32" ry="9" fill="#4a6490" opacity="0.45" filter="url(#blur2)"/></svg>
<path d="M768,444.8 L924,444.8 Q928.5,445.3 928.5,447.6 Q927,450.6 920,450.6 L772,450.6 Q764.5,450.6 763.2,447.6 Q763.5,445.3 768,444.8 Z" fill="url(#baseG)"/>
<rect x="836" y="444.8" width="20" height="1.6" rx="0.8" fill="#b0b0b4"/>
<path d="M630.23,721.88 A14.59,14.59 0 0 1 649.37,721.88 M633.11,725.20 A10.19,10.19 0 0 1 646.49,725.20 M636.32,728.27 A5.79,5.79 0 0 1 643.28,728.27" fill="none" stroke="#9ef2fa" stroke-width="3.46" stroke-linecap="round" opacity="0.6" filter="url(#blur1)"/>
<path d="M630.23,721.88 A14.59,14.59 0 0 1 649.37,721.88 M633.11,725.20 A10.19,10.19 0 0 1 646.49,725.20 M636.32,728.27 A5.79,5.79 0 0 1 643.28,728.27" fill="none" stroke="#35a6bc" stroke-width="1.76" stroke-linecap="round"/>
<circle cx="639.80" cy="731.51" r="1.01" fill="#35a6bc"/>
<rect x="638.6" y="734.8" width="29.2" height="59" rx="5" fill="#25284a"/>
<svg x="640.2" y="736.4" width="26" height="55.8" overflow="hidden"><rect width="26" height="55.8" rx="3.8" fill="url(#phoneG)"/><ellipse cx="4" cy="52" rx="8" ry="14" fill="#b8b8d4" opacity="0.8" filter="url(#blur2)"/><ellipse cx="23" cy="50" rx="6" ry="14" fill="#6a78b8" opacity="0.6" filter="url(#blur2)"/><ellipse cx="15" cy="48" rx="7" ry="16" fill="#f09070" opacity="0.85" filter="url(#blur2)"/><ellipse cx="11" cy="47" rx="3" ry="13" fill="#fff2ec" opacity="0.9" filter="url(#blur1)"/><ellipse cx="9" cy="28" rx="6" ry="8" fill="#f050a0" opacity="0.5" filter="url(#blur2)"/></svg>
<rect x="648" y="736.4" width="10" height="1.6" rx="0.8" fill="#25284a"/>
<path d="M677.82,676.21 A17.96,17.96 0 0 1 701.38,676.21 M681.37,680.30 A12.54,12.54 0 0 1 697.83,680.30 M685.31,684.07 A7.12,7.12 0 0 1 693.89,684.07" fill="none" stroke="#9ef2fa" stroke-width="4.26" stroke-linecap="round" opacity="0.6" filter="url(#blur1)"/>
<path d="M677.82,676.21 A17.96,17.96 0 0 1 701.38,676.21 M681.37,680.30 A12.54,12.54 0 0 1 697.83,680.30 M685.31,684.07 A7.12,7.12 0 0 1 693.89,684.07" fill="none" stroke="#35a6bc" stroke-width="2.17" stroke-linecap="round"/>
<circle cx="689.60" cy="688.06" r="1.24" fill="#35a6bc"/>
<rect x="685.8" y="696.0" width="68.6" height="98" rx="5" fill="#fbfbfb" stroke="#e4dede" stroke-width="1"/>
<svg x="690" y="704.3" width="61.5" height="81" overflow="hidden"><rect width="61.5" height="81" fill="url(#tabG)"/><ellipse cx="6" cy="32" rx="12" ry="18" fill="#2c68a0" opacity="0.5" filter="url(#blur2)"/><ellipse cx="28" cy="46" rx="24" ry="8" transform="rotate(-40 28 46)" fill="#74c8e0" opacity="0.55" filter="url(#blur2)"/><ellipse cx="12" cy="67" rx="20" ry="18" fill="#d86a44" opacity="0.85" filter="url(#blur4)"/><ellipse cx="6" cy="76" rx="10" ry="8" fill="#b83a2a" opacity="0.8" filter="url(#blur2)"/><ellipse cx="28" cy="60" rx="9" ry="8" fill="#e8b090" opacity="0.6" filter="url(#blur2)"/><ellipse cx="52" cy="58" rx="12" ry="16" fill="#2a68ac" opacity="0.6" filter="url(#blur2)"/><ellipse cx="44" cy="78" rx="16" ry="6" fill="#36a4d8" opacity="0.7" filter="url(#blur2)"/></svg>
<circle cx="720.4" cy="700.0" r="0.8" fill="#b0b0b0"/>
<circle cx="720.4" cy="789.8" r="2.1" fill="none" stroke="#e0e0e0" stroke-width="0.6"/>
<path d="M775.08,676.79 A23.20,23.20 0 0 1 805.52,676.79 M779.67,682.07 A16.20,16.20 0 0 1 800.93,682.07 M784.76,686.95 A9.20,9.20 0 0 1 795.84,686.95" fill="none" stroke="#9ef2fa" stroke-width="5.50" stroke-linecap="round" opacity="0.6" filter="url(#blur1)"/>
<path d="M775.08,676.79 A23.20,23.20 0 0 1 805.52,676.79 M779.67,682.07 A16.20,16.20 0 0 1 800.93,682.07 M784.76,686.95 A9.20,9.20 0 0 1 795.84,686.95" fill="none" stroke="#35a6bc" stroke-width="2.80" stroke-linecap="round"/>
<circle cx="790.30" cy="692.10" r="1.60" fill="#35a6bc"/>
<rect x="778.2" y="698.6" width="135.4" height="90.2" rx="3" fill="#0c0a0a"/>
<svg x="782.2" y="704.0" width="127" height="79.3" overflow="hidden"><rect width="127" height="79.3" fill="url(#lapSky)"/><path d="M0,16.5 C10,17 20,19.5 29,20.3 C38,21.5 48,21.5 58,21 C64,21 68,21.5 71,21.7 C76,22.5 82,27 88,28.8 C96,30.2 104,30.6 110,32 C116,33 122,34 127,35.5 L127,80 L0,80 Z" fill="url(#lapSea)"/><path d="M0,16.5 C10,17 20,19.5 29,20.3 C38,21.5 48,21.5 58,21 C64,21 68,21.5 71,21.7 C76,22.5 82,27 88,28.8 C96,30.2 104,30.6 110,32 C116,33 122,34 127,35.5" fill="none" stroke="#e8eef4" stroke-width="1" opacity="0.7"/><path d="M67,22.5 C73,21.5 78,24.5 84,28.3 C92,30.5 101,31 109,32.5 C117,34 122,35 127,36.5 L127,50 C114,50 100,48 88,45 C79,42 72,37 67,30 Z" fill="url(#crestG)" opacity="0.9" filter="url(#blur05)"/><path d="M64,24 C68,22 72,23 75,25 C79,30 82,36 86,42 C78,40 70,35 64,30 Z" fill="#1e3658" opacity="0.75" filter="url(#blur1)"/><path d="M0,50 C30,46 60,50 127,52 L127,80 L0,80 Z" fill="url(#lapLow)" filter="url(#blur2)"/><ellipse cx="28" cy="32" rx="30" ry="8" fill="#8cb0cc" opacity="0.35" filter="url(#blur2)"/><ellipse cx="20" cy="70" rx="32" ry="9" fill="#4a6490" opacity="0.45" filter="url(#blur2)"/></svg>
<path d="M768,788.8 L924,788.8 Q928.5,789.3 928.5,791.6 Q927,794.6 920,794.6 L772,794.6 Q764.5,794.6 763.2,791.6 Q763.5,789.3 768,788.8 Z" fill="url(#baseG)"/>
<rect x="836" y="788.8" width="20" height="1.6" rx="0.8" fill="#b0b0b4"/>
<path d="M630.23,902.88 A14.59,14.59 0 0 1 649.37,902.88 M633.11,906.20 A10.19,10.19 0 0 1 646.49,906.20 M636.32,909.27 A5.79,5.79 0 0 1 643.28,909.27" fill="none" stroke="#9ef2fa" stroke-width="3.46" stroke-linecap="round" opacity="0.6" filter="url(#blur1)"/>
<path d="M630.23,902.88 A14.59,14.59 0 0 1 649.37,902.88 M633.11,906.20 A10.19,10.19 0 0 1 646.49,906.20 M636.32,909.27 A5.79,5.79 0 0 1 643.28,909.27" fill="none" stroke="#35a6bc" stroke-width="1.76" stroke-linecap="round"/>
<circle cx="639.80" cy="912.51" r="1.01" fill="#35a6bc"/>
<rect x="638.6" y="915.8" width="29.2" height="59" rx="5" fill="#25284a"/>
<svg x="640.2" y="917.4" width="26" height="55.8" overflow="hidden"><rect width="26" height="55.8" rx="3.8" fill="url(#phoneG)"/><ellipse cx="4" cy="52" rx="8" ry="14" fill="#b8b8d4" opacity="0.8" filter="url(#blur2)"/><ellipse cx="23" cy="50" rx="6" ry="14" fill="#6a78b8" opacity="0.6" filter="url(#blur2)"/><ellipse cx="15" cy="48" rx="7" ry="16" fill="#f09070" opacity="0.85" filter="url(#blur2)"/><ellipse cx="11" cy="47" rx="3" ry="13" fill="#fff2ec" opacity="0.9" filter="url(#blur1)"/><ellipse cx="9" cy="28" rx="6" ry="8" fill="#f050a0" opacity="0.5" filter="url(#blur2)"/></svg>
<rect x="648" y="917.4" width="10" height="1.6" rx="0.8" fill="#25284a"/>
<path d="M677.82,857.21 A17.96,17.96 0 0 1 701.38,857.21 M681.37,861.30 A12.54,12.54 0 0 1 697.83,861.30 M685.31,865.07 A7.12,7.12 0 0 1 693.89,865.07" fill="none" stroke="#9ef2fa" stroke-width="4.26" stroke-linecap="round" opacity="0.6" filter="url(#blur1)"/>
<path d="M677.82,857.21 A17.96,17.96 0 0 1 701.38,857.21 M681.37,861.30 A12.54,12.54 0 0 1 697.83,861.30 M685.31,865.07 A7.12,7.12 0 0 1 693.89,865.07" fill="none" stroke="#35a6bc" stroke-width="2.17" stroke-linecap="round"/>
<circle cx="689.60" cy="869.06" r="1.24" fill="#35a6bc"/>
<rect x="685.8" y="877.0" width="68.6" height="98" rx="5" fill="#fbfbfb" stroke="#e4dede" stroke-width="1"/>
<svg x="690" y="885.3" width="61.5" height="81" overflow="hidden"><rect width="61.5" height="81" fill="url(#tabG)"/><ellipse cx="6" cy="32" rx="12" ry="18" fill="#2c68a0" opacity="0.5" filter="url(#blur2)"/><ellipse cx="28" cy="46" rx="24" ry="8" transform="rotate(-40 28 46)" fill="#74c8e0" opacity="0.55" filter="url(#blur2)"/><ellipse cx="12" cy="67" rx="20" ry="18" fill="#d86a44" opacity="0.85" filter="url(#blur4)"/><ellipse cx="6" cy="76" rx="10" ry="8" fill="#b83a2a" opacity="0.8" filter="url(#blur2)"/><ellipse cx="28" cy="60" rx="9" ry="8" fill="#e8b090" opacity="0.6" filter="url(#blur2)"/><ellipse cx="52" cy="58" rx="12" ry="16" fill="#2a68ac" opacity="0.6" filter="url(#blur2)"/><ellipse cx="44" cy="78" rx="16" ry="6" fill="#36a4d8" opacity="0.7" filter="url(#blur2)"/></svg>
<circle cx="720.4" cy="881.0" r="0.8" fill="#b0b0b0"/>
<circle cx="720.4" cy="970.8" r="2.1" fill="none" stroke="#e0e0e0" stroke-width="0.6"/>
<path d="M775.08,857.79 A23.20,23.20 0 0 1 805.52,857.79 M779.67,863.07 A16.20,16.20 0 0 1 800.93,863.07 M784.76,867.95 A9.20,9.20 0 0 1 795.84,867.95" fill="none" stroke="#9ef2fa" stroke-width="5.50" stroke-linecap="round" opacity="0.6" filter="url(#blur1)"/>
<path d="M775.08,857.79 A23.20,23.20 0 0 1 805.52,857.79 M779.67,863.07 A16.20,16.20 0 0 1 800.93,863.07 M784.76,867.95 A9.20,9.20 0 0 1 795.84,867.95" fill="none" stroke="#35a6bc" stroke-width="2.80" stroke-linecap="round"/>
<circle cx="790.30" cy="873.10" r="1.60" fill="#35a6bc"/>
<rect x="778.2" y="879.6" width="135.4" height="90.2" rx="3" fill="#0c0a0a"/>
<svg x="782.2" y="885.0" width="127" height="79.3" overflow="hidden"><rect width="127" height="79.3" fill="url(#lapSky)"/><path d="M0,16.5 C10,17 20,19.5 29,20.3 C38,21.5 48,21.5 58,21 C64,21 68,21.5 71,21.7 C76,22.5 82,27 88,28.8 C96,30.2 104,30.6 110,32 C116,33 122,34 127,35.5 L127,80 L0,80 Z" fill="url(#lapSea)"/><path d="M0,16.5 C10,17 20,19.5 29,20.3 C38,21.5 48,21.5 58,21 C64,21 68,21.5 71,21.7 C76,22.5 82,27 88,28.8 C96,30.2 104,30.6 110,32 C116,33 122,34 127,35.5" fill="none" stroke="#e8eef4" stroke-width="1" opacity="0.7"/><path d="M67,22.5 C73,21.5 78,24.5 84,28.3 C92,30.5 101,31 109,32.5 C117,34 122,35 127,36.5 L127,50 C114,50 100,48 88,45 C79,42 72,37 67,30 Z" fill="url(#crestG)" opacity="0.9" filter="url(#blur05)"/><path d="M64,24 C68,22 72,23 75,25 C79,30 82,36 86,42 C78,40 70,35 64,30 Z" fill="#1e3658" opacity="0.75" filter="url(#blur1)"/><path d="M0,50 C30,46 60,50 127,52 L127,80 L0,80 Z" fill="url(#lapLow)" filter="url(#blur2)"/><ellipse cx="28" cy="32" rx="30" ry="8" fill="#8cb0cc" opacity="0.35" filter="url(#blur2)"/><ellipse cx="20" cy="70" rx="32" ry="9" fill="#4a6490" opacity="0.45" filter="url(#blur2)"/></svg>
<path d="M768,969.8 L924,969.8 Q928.5,970.3 928.5,972.6 Q927,975.6 920,975.6 L772,975.6 Q764.5,975.6 763.2,972.6 Q763.5,970.3 768,969.8 Z" fill="url(#baseG)"/>
<rect x="836" y="969.8" width="20" height="1.6" rx="0.8" fill="#b0b0b4"/>
<g>
 <path d="M638.2,533.4 L650,533.4 L658.6,541 L658.6,579 L638.2,579 Z" fill="#1c1c1c"/>
 <rect x="647.8" y="534" width="1.2" height="32" fill="#6a6a6a"/>
 <rect x="644" y="567" width="2.5" height="2.5" fill="#888"/>
 <rect x="621.4" y="579" width="55.2" height="7.2" rx="3" fill="#141414"/>
 <rect x="623" y="579.6" width="52" height="1.2" fill="#6a6a6a"/>
 <path d="M644,586 L654.5,586 L656.5,592.8 L642,592.8 Z" fill="#1a2a30"/>
 <path d="M667,569.5 Q671,566.5 677,568.5 L684,568.5 Q690,566.5 694.5,569.5 Q698.5,580 697,590 Q694,592.5 690.5,589 L686,583.5 L675.5,583.5 L670,589.5 Q666,592.5 663.5,590 Q663,579 667,569.5 Z" fill="#101010"/>
 <circle cx="690.5" cy="574" r="1.1" fill="#b04040"/>
 <circle cx="692.5" cy="576.5" r="1.1" fill="#b04040"/>
</g>
<text x="696.4" y="571.8" font-family="Liberation Sans" font-size="20.5" font-weight="normal" fill="#52b4da" text-anchor="start">or</text>
<text x="816" y="571.8" font-family="Liberation Sans" font-size="20.5" font-weight="normal" fill="#52b4da" text-anchor="start">or</text>
<g>
 <path d="M720.2,539.4 L815.6,520.2 L812,595.8 L716.6,594.6 Z" fill="#0c0c0c"/>
 <clipPath id="tvclip"><path d="M722.3,542 L813,523.5 L809.6,593.5 L719.3,592.6 Z"/></clipPath>
 <g clip-path="url(#tvclip)">
  <rect x="715" y="520" width="100" height="80" fill="url(#tvSky)"/>
  <ellipse cx="740" cy="563" rx="18" ry="8" fill="#eef4fa" opacity="0.85" filter="url(#blur2)"/>
  <ellipse cx="728" cy="548" rx="8" ry="5" fill="#dfe8f4" opacity="0.7" filter="url(#blur2)"/>
  <ellipse cx="780" cy="540" rx="6" ry="3" fill="#c8daf2" opacity="0.7" filter="url(#blur1)"/>
  <path d="M715,577 C735,573 760,566.5 790,564 C800,563.5 808,563.2 815,563 L815,600 L715,600 Z" fill="url(#tvGrass)"/>
  <path d="M752,566 L790,600 L770,600 L745,568 Z" fill="#b8d890" opacity="0.35" filter="url(#blur2)"/>
 </g>
 <rect x="768.8" y="595.8" width="4.8" height="5.5" fill="#1a1a1a"/>
 <ellipse cx="764.6" cy="602" rx="24" ry="2" fill="#2e2e2e"/>
</g>
<g>
 <rect x="884.4" y="583" width="11.2" height="17" fill="url(#silverG)"/>
 <rect x="887.5" y="586" width="5" height="5" fill="#f0f0f0" opacity="0.8"/>
 <path d="M860.4,601.4 Q888,597.5 916.4,601.4 L916.4,603.4 L860.4,603.4 Z" fill="#8a8a8a"/>
 <rect x="837.2" y="519.4" width="100.3" height="64.8" rx="1" fill="#1c1c1c"/>
 <rect x="841" y="522.6" width="92.6" height="58" fill="url(#monSky)"/>
 <path d="M847.5,566.5 L858,558.5 L868,551.5 L880,546.5 L895,543 L899.5,537 L902,528.5 L906,528 L905.5,541 L915,544 L931,547 L931,550.5 L914,551.5 L900,554 L888,557 L874,562 L860,566 Z" fill="#4a4844"/>
 <ellipse cx="869" cy="549.5" rx="7.5" ry="2.6" transform="rotate(-20 869 549.5)" fill="#8a7c52"/>
 <path d="M850,553 L859,548.5 L866,550.5 L857,554 Z" fill="#5a5a58"/>
 <path d="M875,559 L895,553 L900,556 L880,561 Z" fill="#3a3834"/>
 <rect x="942.8" y="518.5" width="32.2" height="85.5" rx="2.5" fill="#a4a4a4"/>
 <rect x="944.3" y="519.5" width="29.2" height="35" rx="1.5" fill="#161616"/>
 <rect x="946" y="531" width="25.6" height="0.8" fill="#333"/>
 <rect x="946" y="538" width="25.6" height="0.8" fill="#333"/>
 <rect x="946" y="545" width="25.6" height="0.8" fill="#333"/>
 <rect x="946.5" y="555" width="24.8" height="25" fill="#b6b6b6"/>
 <path d="M942.8,554 Q947,557 946.5,567 Q947,577 942.8,581 Z" fill="#1e1e1e"/>
 <path d="M975,554 Q970.8,557 971.3,567 Q970.8,577 975,581 Z" fill="#1e1e1e"/>
 <circle cx="959" cy="558.5" r="0.8" fill="#222"/>
 <rect x="945" y="581.5" width="28" height="21" fill="#8c8c8c"/>
 <rect x="946.5" y="583.5" width="25" height="2" fill="#2a2a2a"/>
 <rect x="946.5" y="587.5" width="25" height="2" fill="#2a2a2a"/>
 <rect x="946.5" y="591.5" width="25" height="2" fill="#2a2a2a"/>
 <rect x="946.5" y="595.5" width="25" height="2" fill="#2a2a2a"/>
 <rect x="946.5" y="599.5" width="25" height="2" fill="#2a2a2a"/>
</g>
</svg>
</body></html>
